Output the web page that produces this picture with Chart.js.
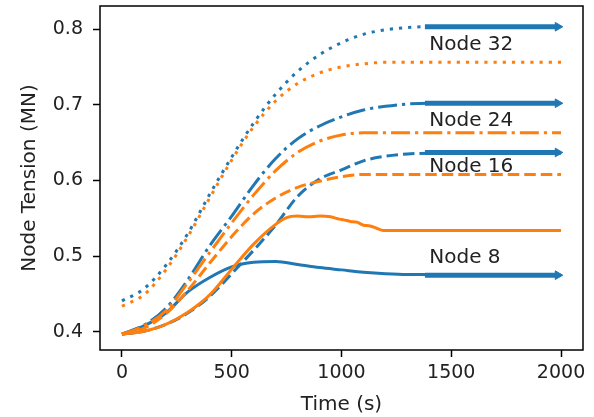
<!DOCTYPE html>
<html>
<head>
<meta charset="utf-8">
<script src="https://cdn.jsdelivr.net/npm/chart.js@4/dist/chart.umd.min.js"></script>
<style>
  html, body { margin: 0; padding: 0; background: #fff; }
  #wrap { width: 594px; height: 417px; }
</style>
</head>
<body>
<div id="wrap"><canvas id="tension" width="594" height="417"></canvas></div>
<script>
// time grid (s) shared by most series
const times = [0, 100, 200, 300, 400, 500, 600, 700, 800, 900, 1000,
               1100, 1200, 1300, 1400, 1500, 1600, 1700, 1800, 1900, 2000];

// Node 32 (dotted)
const blueNode32   = [0.441, 0.457, 0.488, 0.530, 0.582, 0.631, 0.676, 0.714, 0.744, 0.766, 0.782,
                      0.793, 0.799, 0.802, 0.803, 0.803, 0.803, 0.803, 0.803, 0.803, 0.803];
const orangeNode32 = [0.434, 0.449, 0.482, 0.526, 0.577, 0.627, 0.671, 0.705, 0.728, 0.742, 0.750,
                      0.754, 0.756, 0.756, 0.756, 0.756, 0.756, 0.756, 0.756, 0.756, 0.756];
// Node 24 (dash-dot)
const blueNode24   = [0.397, 0.409, 0.431, 0.469, 0.514, 0.553, 0.594, 0.629, 0.655, 0.672, 0.684,
                      0.693, 0.698, 0.701, 0.702, 0.702, 0.702, 0.702, 0.702, 0.702, 0.702];
const orangeNode24 = [0.397, 0.408, 0.428, 0.465, 0.505, 0.544, 0.581, 0.613, 0.637, 0.652, 0.660,
                      0.663, 0.663, 0.663, 0.663, 0.663, 0.663, 0.663, 0.663, 0.663, 0.663];
// Node 16 (dashed)
const blueNode16   = [0.397, 0.401, 0.410, 0.425, 0.447, 0.477, 0.508, 0.541, 0.579, 0.602, 0.614,
                      0.626, 0.632, 0.635, 0.636, 0.636, 0.636, 0.636, 0.636, 0.636, 0.636];
const orangeNode16 = [0.397, 0.405, 0.424, 0.455, 0.491, 0.526, 0.556, 0.577, 0.591, 0.599, 0.605,
                      0.608, 0.608, 0.608, 0.608, 0.608, 0.608, 0.608, 0.608, 0.608, 0.608];
// Node 8 (solid)
const blueNode8    = [0.397, 0.408, 0.425, 0.453, 0.472, 0.486, 0.492, 0.493, 0.489, 0.485, 0.482,
                      0.479, 0.477, 0.476, 0.476, 0.476, 0.475, 0.475, 0.475, 0.475, 0.475];
// orange Node 8 has small steps, so it gets its own time list
const orange8Times = [0, 100, 200, 300, 400, 500, 600, 700, 750, 800, 850, 900, 950, 990, 1010,
                      1040, 1070, 1100, 1130, 1160, 1190, 1300, 2000];
const orangeNode8  = [0.397, 0.401, 0.410, 0.426, 0.449, 0.483, 0.516, 0.542, 0.551, 0.553, 0.552,
                      0.553, 0.552, 0.549, 0.548, 0.546, 0.545, 0.541, 0.540, 0.537, 0.534, 0.534, 0.534];

// thick blue tails with arrow heads (Node 32, 24, 16, 8)
const tailTimes  = [1380, 1985];
const tailValues = [0.803, 0.702, 0.637, 0.475];

// text labels
const nodeNames   = ['Node 32', 'Node 24', 'Node 16', 'Node 8'];
const labelTime   = 1400;
const labelValues = [0.772, 0.672, 0.611, 0.491];

const xTicks = [0, 500, 1000, 1500, 2000];
const yTicks = [0.4, 0.5, 0.6, 0.7, 0.8];

const BLUE = '#1f77b4';
const ORANGE = '#ff7f0e';
const LW = 3;
const DOT = [3.2, 6];
const DASH = [11.5, 5];
const DASHDOT = [19, 5, 3.2, 5];

function pts(xs, ys) {
    return ys.map((y, i) => ({x: xs[i], y: y}));
}

function line(data, color, dash) {
    return {
        data: data,
        borderColor: color,
        borderWidth: LW,
        borderDash: dash,
        borderCapStyle: 'butt',
        pointRadius: 0,
        fill: false,
        cubicInterpolationMode: 'monotone'
    };
}

function tail(value) {
    return {
        data: tailTimes.map(t => ({x: t, y: value})),
        borderColor: BLUE,
        backgroundColor: BLUE,
        borderWidth: 5,
        pointStyle: 'triangle',
        rotation: 90,
        pointRadius: (ctx) => ctx.dataIndex === tailTimes.length - 1 ? 5 : 0,
        pointBorderWidth: 1,
        fill: false
    };
}

// first dataset ends up on top
const datasets = [
    ...tailValues.map(tail),
    line(pts(times, orangeNode32), ORANGE, DOT),
    line(pts(times, orangeNode24), ORANGE, DASHDOT),
    line(pts(times, orangeNode16), ORANGE, DASH),
    line(pts(orange8Times, orangeNode8), ORANGE, []),
    line(pts(times, blueNode32), BLUE, DOT),
    line(pts(times, blueNode24), BLUE, DASHDOT),
    line(pts(times, blueNode16), BLUE, DASH),
    line(pts(times, blueNode8), BLUE, [])
];

// frame round the plot area plus the node labels
const framePlugin = {
    id: 'frame',
    afterDraw(chart) {
        const {ctx, chartArea: a, scales} = chart;
        ctx.save();
        ctx.font = '20px "DejaVu Sans"';
        ctx.fillStyle = '#222';
        ctx.textAlign = 'left';
        ctx.textBaseline = 'alphabetic';
        nodeNames.forEach((name, i) => {
            ctx.fillText(name, scales.x.getPixelForValue(labelTime), scales.y.getPixelForValue(labelValues[i]));
        });
        ctx.strokeStyle = '#000';
        ctx.lineWidth = 1.5;
        ctx.strokeRect(a.left, a.top, a.right - a.left, a.bottom - a.top);
        ctx.restore();
    }
};

const tickFont = {family: 'DejaVu Sans', size: 19};
const titleFont = {family: 'DejaVu Sans', size: 20};

new Chart(document.getElementById('tension'), {
    type: 'line',
    data: {datasets: datasets},
    options: {
        responsive: false,
        animation: false,
        devicePixelRatio: 1,
        layout: {padding: {top: 6, right: 11, left: 0, bottom: 0}},
        plugins: {legend: {display: false}, tooltip: {enabled: false}},
        scales: {
            x: {
                type: 'linear',
                min: -100,
                max: 2100,
                afterBuildTicks: (s) => { s.ticks = xTicks.map(v => ({value: v})); },
                afterFit: (s) => { s.height = 67; s.paddingLeft = 0; s.paddingRight = 0; },
                border: {display: false},
                grid: {drawOnChartArea: false, tickLength: 7, tickColor: '#000', tickWidth: 1.5},
                ticks: {font: tickFont, color: '#222', padding: 5, maxRotation: 0, callback: (v) => String(v)},
                title: {display: true, text: 'Time (s)', font: titleFont, color: '#222', padding: {top: 1, bottom: 0}}
            },
            y: {
                min: 0.3762,
                max: 0.8304,
                afterBuildTicks: (s) => { s.ticks = yTicks.map(v => ({value: v})); },
                afterFit: (s) => { s.width = 100; s.paddingTop = 0; s.paddingBottom = 0; },
                border: {display: false},
                grid: {drawOnChartArea: false, tickLength: 7, tickColor: '#000', tickWidth: 1.5},
                ticks: {font: tickFont, color: '#222', padding: 10, callback: (v) => v.toFixed(1)},
                title: {display: true, text: 'Node Tension (MN)', font: titleFont, color: '#222', padding: {top: 18, bottom: 0}}
            }
        }
    },
    plugins: [framePlugin]
});
</script>
</body>
</html>
